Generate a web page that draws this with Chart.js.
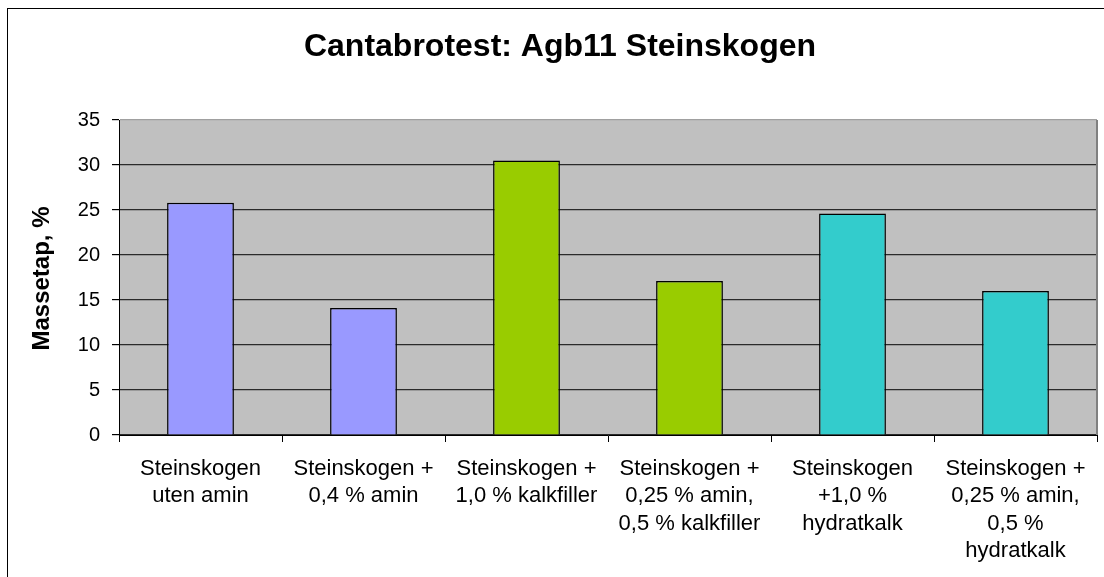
<!DOCTYPE html>
<html>
<head>
<meta charset="utf-8">
<script src="https://cdn.jsdelivr.net/npm/chart.js@4"></script>
<style>
  html, body { margin: 0; padding: 0; background: #fff; }
  canvas { display: block; }
</style>
</head>
<body>
<canvas id="chart" width="1104" height="577"></canvas>
<script>
// Verdiene er lest av fra figuren
const categories = [
  ['Steinskogen', 'uten amin'],
  ['Steinskogen +', '0,4 % amin'],
  ['Steinskogen +', '1,0 % kalkfiller'],
  ['Steinskogen +', '0,25 % amin,', '0,5 % kalkfiller'],
  ['Steinskogen', '+1,0 %', 'hydratkalk'],
  ['Steinskogen +', '0,25 % amin,', '0,5 %', 'hydratkalk'],
];
const massetap = [25.8, 14.1, 30.5, 17.1, 24.6, 16.0];
const barColors = ['#9999FF', '#9999FF', '#99CC00', '#99CC00', '#33CCCC', '#33CCCC'];
const yTicks = [0, 5, 10, 15, 20, 25, 30, 35];
const chartTitle = 'Cantabrotest: Agb11 Steinskogen';
const yTitle = 'Massetap, %';

const FONT = "'Liberation Sans', Arial, sans-serif";

// grå plotflate, ramme rundt figuren, tittel og y-aksetittel
const frame = {
  id: 'frame',
  beforeDraw(chart) {
    const { ctx, chartArea: a } = chart;
    ctx.save();
    ctx.fillStyle = '#fff';
    ctx.fillRect(0, 0, chart.width, chart.height);
    ctx.fillStyle = '#C0C0C0';
    ctx.fillRect(a.left, a.top, a.right - a.left, a.bottom - a.top);
    ctx.strokeStyle = '#000';
    ctx.lineWidth = 1;
    ctx.strokeRect(7.5, 8.5, 2000, 2000);

    ctx.fillStyle = '#000';
    ctx.textAlign = 'center';
    ctx.textBaseline = 'middle';
    ctx.font = `bold 32px ${FONT}`;
    ctx.fillText(chartTitle, 560, 47);

    ctx.translate(42, (a.top + a.bottom) / 2 + 1);
    ctx.rotate(-Math.PI / 2);
    ctx.font = `bold 24px ${FONT}`;
    ctx.fillText(yTitle, 0, 0);
    ctx.restore();
  },
  afterDatasetsDraw(chart) {
    const { ctx, chartArea: a } = chart;
    ctx.save();
    ctx.strokeStyle = '#808080';
    ctx.lineWidth = 2;
    ctx.beginPath();
    ctx.moveTo(a.right, a.top);
    ctx.lineTo(a.right, a.bottom);
    ctx.stroke();
    ctx.restore();
  },
};

new Chart(document.getElementById('chart'), {
  type: 'bar',
  data: {
    labels: categories,
    datasets: [{
      data: massetap,
      backgroundColor: barColors,
      borderColor: '#000',
      borderWidth: 1.5,
      barPercentage: 1,
      categoryPercentage: 0.41,
    }],
  },
  options: {
    responsive: false,
    animation: false,
    events: [],
    layout: { padding: { left: 0, right: 7, top: 120, bottom: 0 } },
    plugins: {
      legend: { display: false },
      tooltip: { enabled: false },
      title: { display: false },
    },
    scales: {
      x: {
        grid: {
          drawOnChartArea: false,
          drawTicks: true,
          tickLength: 7,
          color: '#000',
          offset: true,
        },
        border: { color: '#000', width: 1 },
        ticks: {
          color: '#000',
          padding: 13,
          maxRotation: 0,
          autoSkip: false,
          font: { family: FONT, size: 22, lineHeight: 1.25 },
        },
        afterFit(scale) { scale.height = 142; },
      },
      y: {
        min: 0,
        max: 35,
        afterBuildTicks(scale) { scale.ticks = yTicks.map((v) => ({ value: v })); },
        grid: {
          color: (c) => (c.tick && c.tick.value === 35 ? '#A0A0A0' : '#2a2a2a'),
          tickColor: '#000',
          tickLength: 7,
          lineWidth: 1.2,
        },
        border: { color: '#000', width: 1 },
        ticks: {
          color: '#000',
          padding: 12,
          font: { family: FONT, size: 20 },
        },
        afterFit(scale) { scale.width = 119; },
      },
    },
  },
  plugins: [frame],
});
</script>
</body>
</html>
